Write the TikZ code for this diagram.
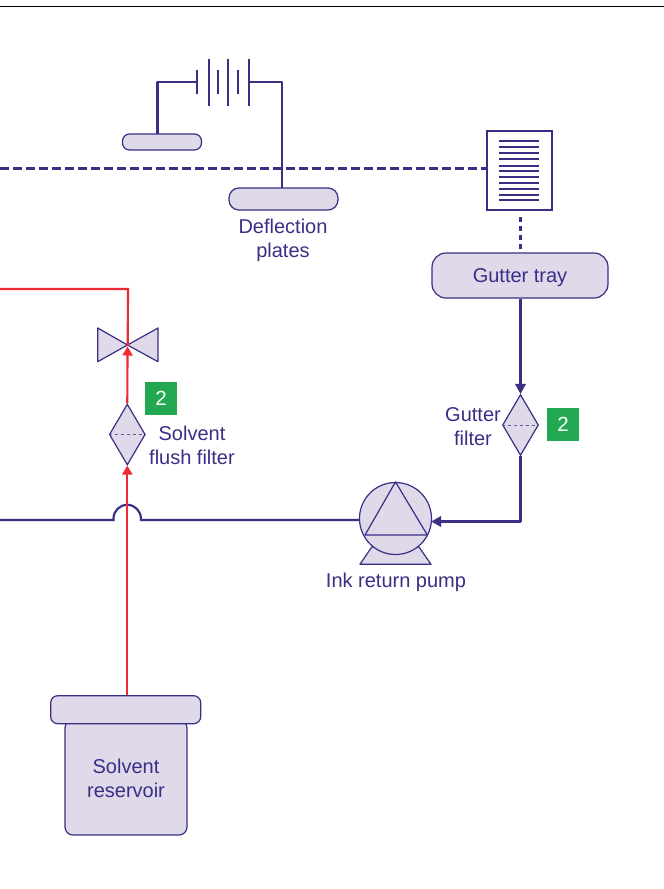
\documentclass[tikz,border=0pt]{standalone}
\usepackage{fontspec}
\setmainfont{Liberation Sans}
\usetikzlibrary{shapes.geometric,arrows.meta,calc}
\definecolor{ink}{HTML}{3A2E85}
\definecolor{lilac}{HTML}{DFD9EA}
\definecolor{redline}{HTML}{EE2A35}
\definecolor{tag}{HTML}{22A851}
\tikzset{
  x=1pt,y=-1pt,
  wire/.style={draw=ink,line width=2.15pt},
  shapeline/.style={draw=ink,line width=1.2pt,fill=lilac},
  plate/.style={shapeline,rectangle,inner sep=0pt,minimum width=#1},
  filter/.style={shapeline,diamond,inner sep=0pt,minimum width=36pt,minimum height=61pt},
  tagbox/.style={fill=tag,text=white,inner sep=0pt,minimum width=32pt,minimum height=33pt,font=\fontsize{20.5}{24}\selectfont},
  label/.style={text=ink,align=center,inner sep=0pt,font=\fontsize{20}{24}\selectfont},
  inktip/.style={-{Triangle[length=10pt,width=10.5pt]}},
  redtip/.style={-{Triangle[length=9pt,width=10pt]}},
  dashline/.style={draw=ink,line width=2.15pt,dash pattern=on 9pt off 4pt},
  innerdash/.style={draw=ink!80,line width=1pt,dash pattern=on 3.5pt off 2.5pt},
}
\begin{document}
\begin{tikzpicture}
\useasboundingbox (0,0) rectangle (664,889);
\fill[white] (0,0) rectangle (664,889);
\coordinate (topL) at (0,6.5);
\coordinate (topR) at (664,6.5);
\draw[black,line width=1.2pt] (topL) -- (topR);

% battery
\coordinate (batL) at (197,82);
\coordinate (batR) at (249,82);
\coordinate (wireA) at (157.5,134);
\coordinate (wireB) at (282,188);
\foreach \xx/\hh in {197/12,209.3/23.5,218/12,228.3/23.5,238.3/12,248.7/23.5}
  \draw[wire] (\xx,82-\hh) -- (\xx,82+\hh);
\draw[wire,line join=round] (batL) -| (wireA);
\draw[wire,line join=round] (batR) -| (wireB);

% doc and plates
\node[draw=ink,line width=2.3pt,fill=white,minimum width=65pt,minimum height=79.5pt,inner sep=0pt] (doc) at (519.7,170.5) {};
\coordinate (dashL) at (0,168.5);
\draw[dashline] (dashL) -- (dashL -| doc.west);
\foreach \yy in {140.7,146.7,152.7,159,165.7,171,177,182.7,189,194.7,200}
  \draw[draw=ink,line width=1.7pt] (499,\yy) -- (539,\yy);
\node[plate=79pt,minimum height=16pt,rounded corners=7pt] (plateA) at (162,142) {};
\node[plate=109pt,minimum height=22pt,rounded corners=10pt] (plateB) at (283.5,199) {};
\node[label] (deflect) at (283,240) {Deflection\\plates};

% gutter tray
\node[plate=176pt,minimum height=45pt,rounded corners=14pt,text=ink,font=\fontsize{20}{24}\selectfont,text depth=0pt,yshift=0pt] (tray) at (520,275.5) {\raisebox{-1pt}{Gutter tray}};
\coordinate (docDash) at (520.5,217);
\coordinate (trayDash) at (520.5,250);
\draw[draw=ink,line width=2.15pt,dash pattern=on 5pt off 4pt] (docDash) -- (trayDash);

% gutter filter
\node[filter] (gfilter) at (520.5,425) {};
\draw[innerdash] (gfilter.west) -- (gfilter.east);
\draw[wire,inktip] (tray.south -| gfilter.north) -- (gfilter.north);
\node[tagbox] (tagG) at (563,424.5) {2};
\node[label] (gfilterText) at (473,427) {Gutter\\filter};

% pump
\coordinate (pumpC) at (395.5,518.5);
\draw[shapeline,line join=round] (371.7,547) -- (360,564.3) -- (431,564.3) -- (419,547) -- cycle;
\node[shapeline,circle,inner sep=0pt,minimum size=72pt] (pump) at (pumpC) {};
\draw[draw=ink,line width=1.2pt,line join=round] (pump.north) -- (365,535) -- (427.3,535) -- cycle;
\node[label] (pumpText) at (396,582) {Ink return pump};
\coordinate (gcorner) at (520.5,521.5);
\coordinate (pumpIn) at (431.3,521.5);
\draw[wire,line join=round] (gfilter.south) -- (gcorner) -- ($(pumpIn)+(8,0)$);
\draw[draw=none,fill=ink] (pumpIn) -- (441,516) -- (441,527) -- cycle;

% ink line with hop
\coordinate (inkL) at (0,520);
\draw[wire] (inkL) -- (113.5,520) -- (113.5,518.5) arc[start angle=180,end angle=0,radius=13.7pt] -- (140.9,520) -- (pump.west |- 0,520);

% solvent
\node[shapeline,rectangle,inner sep=0pt,minimum width=122pt,minimum height=115pt,rounded corners=8pt] (resbody) at (126,777.5) {};
\node[plate=150pt,minimum height=28pt,rounded corners=7pt] (reservoir) at (125.7,709.7) {};
\node[label] (resText) at (126,778) {Solvent\\reservoir};
\node[filter] (sfilter) at (127.3,434.5) {};
\draw[innerdash] (sfilter.west) -- (sfilter.east);
\coordinate (valve) at (127.5,345);
\draw[shapeline,line join=round] (valve) -- (97.7,328) -- (97.7,361.7) -- cycle;
\draw[shapeline,line join=round] (valve) -- (158,328) -- (158,361.7) -- cycle;
\coordinate (redTop) at (128,289);
\coordinate (redL) at (0,289);
\draw[draw=redline,line width=2.15pt,redtip] (reservoir.north -| sfilter.south) -- (sfilter.south);
\draw[draw=redline,line width=2.15pt,redtip] (sfilter.north) -- (valve |- 0,346.5);
\draw[draw=redline,line width=2.15pt,line join=miter] (127.7,346) -- (redTop) -- (redL);
\node[tagbox] (tagS) at (161,398.5) {\raisebox{-1pt}{2}};
\node[label] (sfilterText) at (192,445) {Solvent\\flush filter};
\end{tikzpicture}
\end{document}
